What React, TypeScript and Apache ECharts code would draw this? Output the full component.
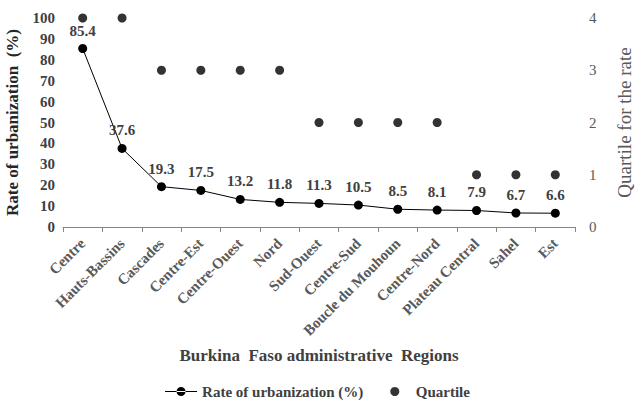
import React, { useEffect, useRef } from "react";
import * as echarts from "echarts";

const regions = [
  "Centre", "Hauts-Bassins", "Cascades", "Centre-Est", "Centre-Ouest", "Nord",
  "Sud-Ouest", "Centre-Sud", "Boucle du Mouhoun", "Centre-Nord", "Plateau Central", "Sahel", "Est",
];
const rate = [85.4, 37.6, 19.3, 17.5, 13.2, 11.8, 11.3, 10.5, 8.5, 8.1, 7.9, 6.7, 6.6];
const quartile = [4, 4, 3, 3, 3, 3, 2, 2, 2, 2, 1, 1, 1];
const rateTicks = { min: 0, max: 100, interval: 10 };
const quartileTicks = { min: 0, max: 4, interval: 1 };

const FONT = "'Liberation Serif', 'Times New Roman', serif";

export default function App() {
  const ref = useRef<HTMLDivElement>(null);
  useEffect(() => {
    if (!ref.current) return;
    const chart = echarts.init(ref.current, null, { renderer: "svg" });
    chart.setOption({
      animation: false,
      textStyle: { fontFamily: FONT },
      grid: { left: 63, right: 60, top: 18, bottom: 184, containLabel: false, outerBoundsMode: "none" },
      legend: {
        top: 379,
        left: "center",
        itemGap: 27,
        itemWidth: 32,
        itemHeight: 9,
        textStyle: { fontFamily: FONT, fontSize: 15, fontWeight: "bold", color: "#404040" },
        data: [
          { name: "Rate of urbanization (%)", icon: "path://M0,4 L32,4 L32,5.2 L0,5.2 Z M11.5,4.6 A4.5,4.5 0 1 0 20.5,4.6 A4.5,4.5 0 1 0 11.5,4.6 Z" },
          { name: "Quartile", icon: "circle" },
        ],
      },
      xAxis: {
        type: "category",
        data: regions,
        boundaryGap: true,
        name: "Burkina  Faso administrative  Regions",
        nameLocation: "middle",
        nameGap: 120,
        nameTextStyle: { fontFamily: FONT, fontSize: 17, fontWeight: "bold", color: "#404040" },
        axisLine: { lineStyle: { color: "#868686", width: 1 } },
        axisTick: { show: true, alignWithLabel: false, length: 5, lineStyle: { color: "#868686" } },
        axisLabel: {
          interval: 0,
          rotate: 45,
          fontFamily: FONT,
          fontSize: 15,
          fontWeight: "bold",
          color: "#595959",
          margin: 14,
        },
      },
      yAxis: [
        {
          type: "value",
          ...rateTicks,
          name: "Rate of urbanization  (%)",
          nameLocation: "middle",
          nameGap: 42,
          nameTextStyle: { fontFamily: FONT, fontSize: 17, fontWeight: "bold", color: "#262626" },
          axisLine: { show: false },
          axisTick: { show: false },
          splitLine: { show: false },
          axisLabel: { fontFamily: FONT, fontSize: 15, fontWeight: "bold", color: "#404040", margin: 8 },
        },
        {
          type: "value",
          ...quartileTicks,
          name: "Quartile for the rate",
          nameLocation: "middle",
          nameGap: 40,
          nameTextStyle: { fontFamily: FONT, fontSize: 19, color: "#595959" },
          axisLine: { show: false },
          axisTick: { show: false },
          splitLine: { show: false },
          axisLabel: { fontFamily: FONT, fontSize: 15, color: "#595959", margin: 14 },
        },
      ],
      series: [
        {
          name: "Rate of urbanization (%)",
          type: "line",
          data: rate,
          yAxisIndex: 0,
          symbol: "circle",
          symbolSize: 9,
          itemStyle: { color: "#000" },
          lineStyle: { color: "#000", width: 1 },
          label: {
            show: true,
            position: "top",
            distance: 6,
            fontFamily: FONT,
            fontSize: 15,
            fontWeight: "bold",
            color: "#404040",
          },
        },
        {
          name: "Quartile",
          type: "scatter",
          data: quartile,
          yAxisIndex: 1,
          symbol: "circle",
          symbolSize: 9,
          itemStyle: { color: "#000" },
        },
      ],
    });
    return () => chart.dispose();
  }, []);
  return (
    <div
      ref={ref}
      style={{ position: "absolute", left: 0, top: 0, width: 635, height: 411 }}
    />
  );
}
